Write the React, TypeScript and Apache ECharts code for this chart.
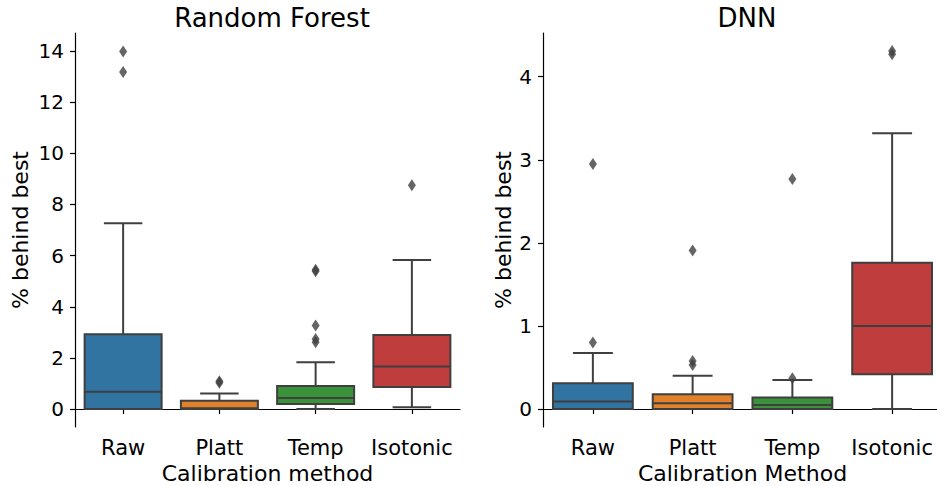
import React, { useEffect, useRef } from 'react';
import * as echarts from 'echarts';

const categories = ['Raw', 'Platt', 'Temp', 'Isotonic'];

// Random Forest boxes: [min, q1, median, q3, max]
const rfBoxes = [
  [0, 0, 0.68, 2.93, 7.26],
  [0, 0, 0.03, 0.33, 0.61],
  [0, 0.2, 0.43, 0.9, 1.83],
  [0.07, 0.86, 1.66, 2.9, 5.83],
];
// [category index, value]
const rfOutliers = [
  [0, 13.98], [0, 13.18],
  [1, 1.09], [1, 1.03],
  [2, 5.45], [2, 5.39], [2, 3.27], [2, 2.74], [2, 2.61],
  [3, 8.75],
];
const rfTicks = [0, 2, 4, 6, 8, 10, 12, 14];
const rfRange = [-0.7, 14.7];

// DNN boxes
const dnnBoxes = [
  [0, 0, 0.09, 0.31, 0.675],
  [0, 0, 0.07, 0.18, 0.4],
  [0, 0, 0.05, 0.14, 0.35],
  [0, 0.42, 1.0, 1.76, 3.32],
];
const dnnOutliers = [
  [0, 2.95], [0, 0.8],
  [1, 1.91], [1, 0.58], [1, 0.53],
  [2, 2.77], [2, 0.37],
  [3, 4.31], [3, 4.27],
];
const dnnTicks = [0, 1, 2, 3, 4];
const dnnRange = [-0.2155, 4.526];

const palette = ['#3274a1', '#e1812c', '#3a923a', '#c03d3e'];
const LINE = '#3f3f3f';
const FONT = 'DejaVu Sans';

function renderBox(params: any, api: any) {
  const cat = api.value(0);
  const mn = api.value(1);
  const q1 = api.value(2);
  const md = api.value(3);
  const q3 = api.value(4);
  const mx = api.value(5);
  const band = api.size([1, 0])[0];
  const cx = api.coord([cat, 0])[0];
  const y = (v: number) => api.coord([cat, v])[1];
  const bw = band * 0.8;
  const cw = band * 0.4;
  const ls = { stroke: LINE, lineWidth: 2, fill: null };
  return {
    type: 'group',
    children: [
      { type: 'line', shape: { x1: cx, y1: y(mn), x2: cx, y2: y(q1) }, style: ls },
      { type: 'line', shape: { x1: cx, y1: y(q3), x2: cx, y2: y(mx) }, style: ls },
      { type: 'line', shape: { x1: cx - cw / 2, y1: y(mn), x2: cx + cw / 2, y2: y(mn) }, style: ls },
      { type: 'line', shape: { x1: cx - cw / 2, y1: y(mx), x2: cx + cw / 2, y2: y(mx) }, style: ls },
      {
        type: 'rect',
        shape: { x: cx - bw / 2, y: y(q3), width: bw, height: y(q1) - y(q3) },
        style: { fill: palette[params.dataIndex % palette.length], stroke: LINE, lineWidth: 2 },
      },
      { type: 'line', shape: { x1: cx - bw / 2, y1: y(md), x2: cx + bw / 2, y2: y(md) }, style: ls },
    ],
  };
}

function xAxis(gridIndex: number, name: string) {
  return {
    type: 'category',
    gridIndex,
    data: categories,
    boundaryGap: true,
    name,
    nameLocation: 'middle',
    nameGap: 35,
    nameTextStyle: { fontFamily: FONT, fontSize: 22, color: '#000' },
    axisLine: { show: true, lineStyle: { color: '#000', width: 1.2 } },
    axisTick: { show: true, alignWithLabel: true, interval: 0, length: 5, lineStyle: { color: '#000', width: 1.2 } },
    axisLabel: { fontFamily: FONT, fontSize: 21, color: '#000', margin: 10, interval: 0, hideOverlap: false },
    splitLine: { show: false },
  };
}

function yAxis(gridIndex: number, range: number[], ticks: number[], gap: number) {
  return {
    type: 'value',
    gridIndex,
    min: range[0],
    max: range[1],
    name: '% behind best',
    nameLocation: 'middle',
    nameGap: gap,
    nameTextStyle: { fontFamily: FONT, fontSize: 22, color: '#000' },
    axisLine: { show: true, lineStyle: { color: '#000', width: 1.2 } },
    axisTick: { show: true, length: 5, customValues: ticks, lineStyle: { color: '#000', width: 1.2 } },
    axisLabel: { fontFamily: FONT, fontSize: 20, color: '#000', margin: 11, customValues: ticks },
    splitLine: { show: false },
  };
}

export default function App() {
  const ref = useRef<HTMLDivElement>(null);
  useEffect(() => {
    if (!ref.current) return;
    const chart = echarts.init(ref.current, undefined, { renderer: 'svg' });
    chart.setOption({
      animation: false,
      backgroundColor: '#fff',
      title: [
        {
          text: 'Random Forest',
          left: 267,
          top: 0,
          textAlign: 'center',
          textStyle: { fontFamily: FONT, fontSize: 26, fontWeight: 'normal', color: '#000' },
        },
        {
          text: 'DNN',
          left: 742,
          top: 0,
          textAlign: 'center',
          textStyle: { fontFamily: FONT, fontSize: 26, fontWeight: 'normal', color: '#000' },
        },
      ],
      grid: [
        { left: 75, top: 33, width: 385, height: 394, containLabel: false, outerBoundsMode: 'none' },
        { left: 543, top: 33, width: 399, height: 394, containLabel: false, outerBoundsMode: 'none' },
      ],
      xAxis: [xAxis(0, 'Calibration method'), xAxis(1, 'Calibration Method')],
      yAxis: [yAxis(0, rfRange, rfTicks, 44), yAxis(1, dnnRange, dnnTicks, 29)],
      series: [
        {
          type: 'custom',
          xAxisIndex: 0,
          yAxisIndex: 0,
          renderItem: renderBox,
          encode: { x: 0, y: [1, 2, 3, 4, 5] },
          data: rfBoxes.map((b, i) => [i, ...b]),
        },
        {
          type: 'scatter',
          xAxisIndex: 0,
          yAxisIndex: 0,
          symbol: 'diamond',
          symbolSize: [8, 12],
          itemStyle: { color: LINE },
          data: rfOutliers,
        },
        {
          type: 'custom',
          xAxisIndex: 1,
          yAxisIndex: 1,
          renderItem: renderBox,
          encode: { x: 0, y: [1, 2, 3, 4, 5] },
          data: dnnBoxes.map((b, i) => [i, ...b]),
        },
        {
          type: 'scatter',
          xAxisIndex: 1,
          yAxisIndex: 1,
          symbol: 'diamond',
          symbolSize: [8, 12],
          itemStyle: { color: LINE },
          data: dnnOutliers,
        },
      ],
    });
    return () => chart.dispose();
  }, []);
  return (
    <div
      ref={ref}
      style={{ position: 'fixed', left: 0, top: 0, width: 937, height: 486, background: '#fff' }}
    />
  );
}
